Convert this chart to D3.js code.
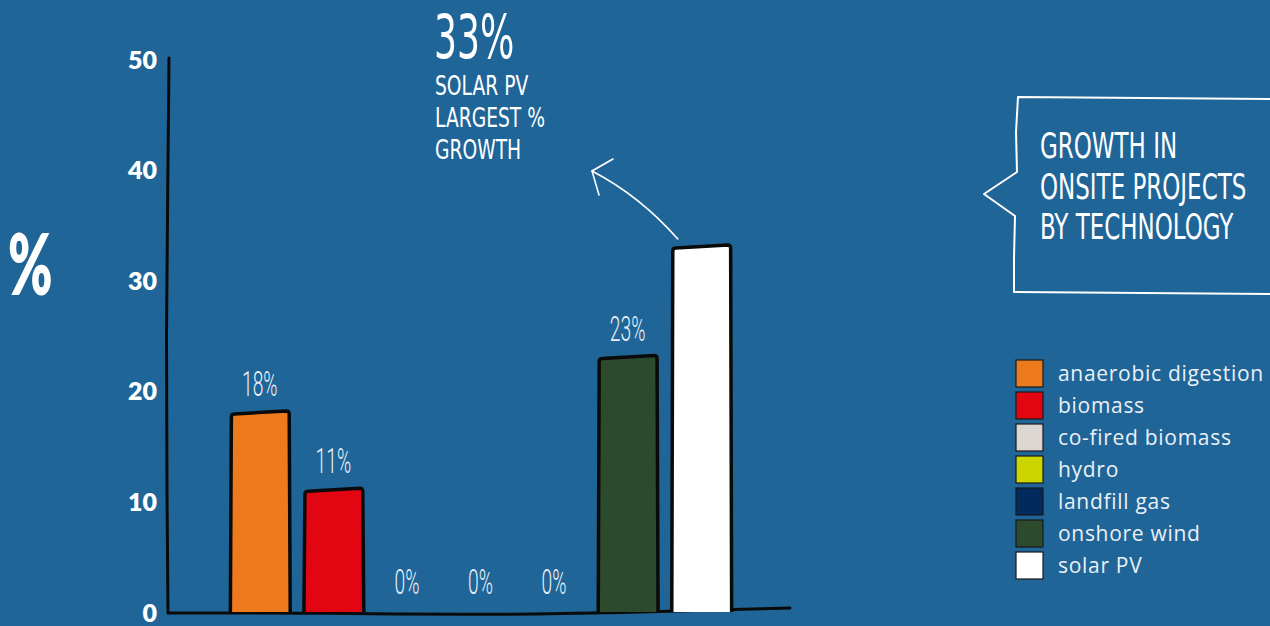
<!DOCTYPE html>
<html>
<head>
<meta charset="utf-8">
<script src="https://cdn.jsdelivr.net/npm/d3@7"></script>
<style>
  html, body { margin: 0; padding: 0; background: #206598; }
  svg { display: block; }
</style>
</head>
<body>
<svg id="chart" width="1270" height="626"></svg>
<script>
// Growth in onsite projects by technology (%)
const categories = ["anaerobic digestion", "biomass", "co-fired biomass", "hydro", "landfill gas", "onshore wind", "solar PV"];
const growth = [18, 11, 0, 0, 0, 23, 33];
const colors = ["#ee7a1e", "#e20613", "#dcd6d2", "#cdd500", "#002b5c", "#2c4a2c", "#ffffff"];
const yTicks = [0, 10, 20, 30, 40, 50];
const titleLines = ["GROWTH IN", "ONSITE PROJECTS", "BY TECHNOLOGY"];
const calloutLines = ["SOLAR PV", "LARGEST %", "GROWTH"];

const data = categories.map((c, i) => ({ name: c, value: growth[i], color: colors[i] }));

const svg = d3.select("#chart");
const ink = "#0a0a0a";
const pale = "#eaf0f6";
const handFont = "'Liberation Sans Narrow','DejaVu Sans Condensed',Roboto,sans-serif";

// squeeze text horizontally to get the tall hand-lettered look
function condense(sel, k) {
  sel.each(function () {
    const t = d3.select(this);
    const tx = +t.attr("x") || 0, ty = +t.attr("y") || 0;
    t.attr("x", 0).attr("y", 0).attr("transform", `translate(${tx},${ty}) scale(${k},1)`);
  });
}

const y = d3.scaleLinear().domain([0, 50]).range([612, 59]);
const x = d3.scaleBand().domain(categories).range([223, 738]).paddingInner(0.2).paddingOuter(0.1);

// y axis tick labels
const yAxis = d3.axisLeft(y).tickValues(yTicks).tickSize(0).tickPadding(12);
const gy = svg.append("g").attr("transform", "translate(169,0)").call(yAxis);
gy.select(".domain").remove();
gy.selectAll("text")
  .attr("fill", "#ffffff")
  .attr("font-family", "Lato, 'Open Sans', sans-serif")
  .attr("font-weight", 800)
  .attr("font-size", 25)
  .attr("dy", "0.36em");

// hand-drawn axis lines
const wobble = d3.line().curve(d3.curveBasis);
svg.append("path")
  .attr("d", wobble([[169, y(50) - 1], [168, y(40)], [166, y(25)], [167, y(10)], [168, y(0)]]))
  .attr("fill", "none").attr("stroke", ink).attr("stroke-width", 3).attr("stroke-linecap", "round");
svg.append("path")
  .attr("d", wobble([[168, y(0) + 1], [330, y(0) + 1], [460, y(0) + 3], [620, y(0) + 1], [790, y(0) - 4]]))
  .attr("fill", "none").attr("stroke", ink).attr("stroke-width", 3).attr("stroke-linecap", "round");

// y axis unit
svg.append("text")
  .attr("x", 8).attr("y", 295)
  .attr("fill", "#ffffff")
  .attr("font-family", "Lato, 'Open Sans', sans-serif")
  .attr("font-weight", 800)
  .attr("font-size", 86)
  .text("%")
  .call(condense, 0.62);

// bars, drawn with a slightly tilted top like a marker sketch
const bars = svg.append("g");
bars.selectAll("path")
  .data(data.filter(d => d.value > 0))
  .join("path")
  .attr("d", d => {
    const x0 = x(d.name), x1 = x0 + x.bandwidth();
    const yt = y(d.value), yb = y(0);
    return `M${x0},${yb} L${x0 + 1},${yt + 4} Q${x0 + 1},${yt + 1} ${x0 + 4},${yt + 1} L${x1 - 3},${yt - 2} Q${x1},${yt - 2} ${x1},${yt + 1} L${x1 + 1},${yb}`;
  })
  .attr("fill", d => d.color)
  .attr("stroke", ink)
  .attr("stroke-width", 3.5)
  .attr("stroke-linejoin", "round");

// value labels (solar PV is called out separately)
svg.append("g").selectAll("text")
  .data(data.filter(d => d.name !== "solar PV"))
  .join("text")
  .attr("x", d => x(d.name) + x.bandwidth() / 2)
  .attr("y", d => y(d.value) - (d.value > 0 ? 17 : 18))
  .attr("text-anchor", "middle")
  .attr("fill", pale)
  .attr("font-family", "Roboto, sans-serif")
  .attr("font-weight", 300)
  .attr("font-size", 35)
  .text(d => d.value + "%")
  .call(condense, 0.55);

// callout above solar PV
const solar = data.find(d => d.name === "solar PV");
const callout = svg.append("g").attr("fill", "#ffffff").attr("font-family", handFont);
callout.append("text")
  .attr("x", 434).attr("y", 58)
  .attr("font-size", 60)
  .text(solar.value + "%")
  .call(condense, 0.67);
callout.selectAll("text.line")
  .data(calloutLines)
  .join("text")
  .attr("class", "line")
  .attr("x", 435)
  .attr("y", (d, i) => 95 + i * 32)
  .attr("font-size", 27)
  .text(d => d)
  .call(condense, 0.77);

// arrow pointing from the solar PV bar to the callout
const arrow = svg.append("g").attr("fill", "none").attr("stroke", "#ffffff").attr("stroke-width", 1.6).attr("stroke-linecap", "round");
const barTop = [x(solar.name) + 6, y(solar.value) - 8];
const tip = [592, 171];
arrow.append("path").attr("d", `M${barTop[0]},${barTop[1]} Q${640},${196} ${tip[0]},${tip[1]}`);
arrow.append("path").attr("d", `M${tip[0] + 21},${tip[1] - 12} L${tip[0]},${tip[1]} L${tip[0] + 7},${tip[1] + 24}`);

// title in a speech bubble
svg.append("path")
  .attr("d", "M1018,97 L1272,99 L1272,294 L1014,292 L1014,258 L1015,216 L984,194 L1017,172 L1016,132 Z")
  .attr("fill", "none").attr("stroke", "#ffffff").attr("stroke-width", 2).attr("stroke-linejoin", "round");
svg.append("g").selectAll("text")
  .data(titleLines)
  .join("text")
  .attr("x", 1040)
  .attr("y", (d, i) => 158 + i * 40.5)
  .attr("fill", "#ffffff")
  .attr("font-family", handFont)
  .attr("font-size", 35)
  .text(d => d)
  .call(condense, 0.73);

// legend
const legend = svg.append("g").attr("transform", "translate(1016,360)");
const rows = legend.selectAll("g").data(data).join("g")
  .attr("transform", (d, i) => `translate(0,${i * 32})`);
rows.append("rect")
  .attr("width", 27).attr("height", 27)
  .attr("fill", d => d.color)
  .attr("stroke", "#1a1a1a").attr("stroke-width", 1.2);
rows.append("text")
  .attr("x", 42).attr("y", 21)
  .attr("fill", pale)
  .attr("font-family", "'Open Sans', Lato, sans-serif")
  .attr("font-size", 21)
  .attr("letter-spacing", 0.7)
  .text(d => d.name);
</script>
</body>
</html>
